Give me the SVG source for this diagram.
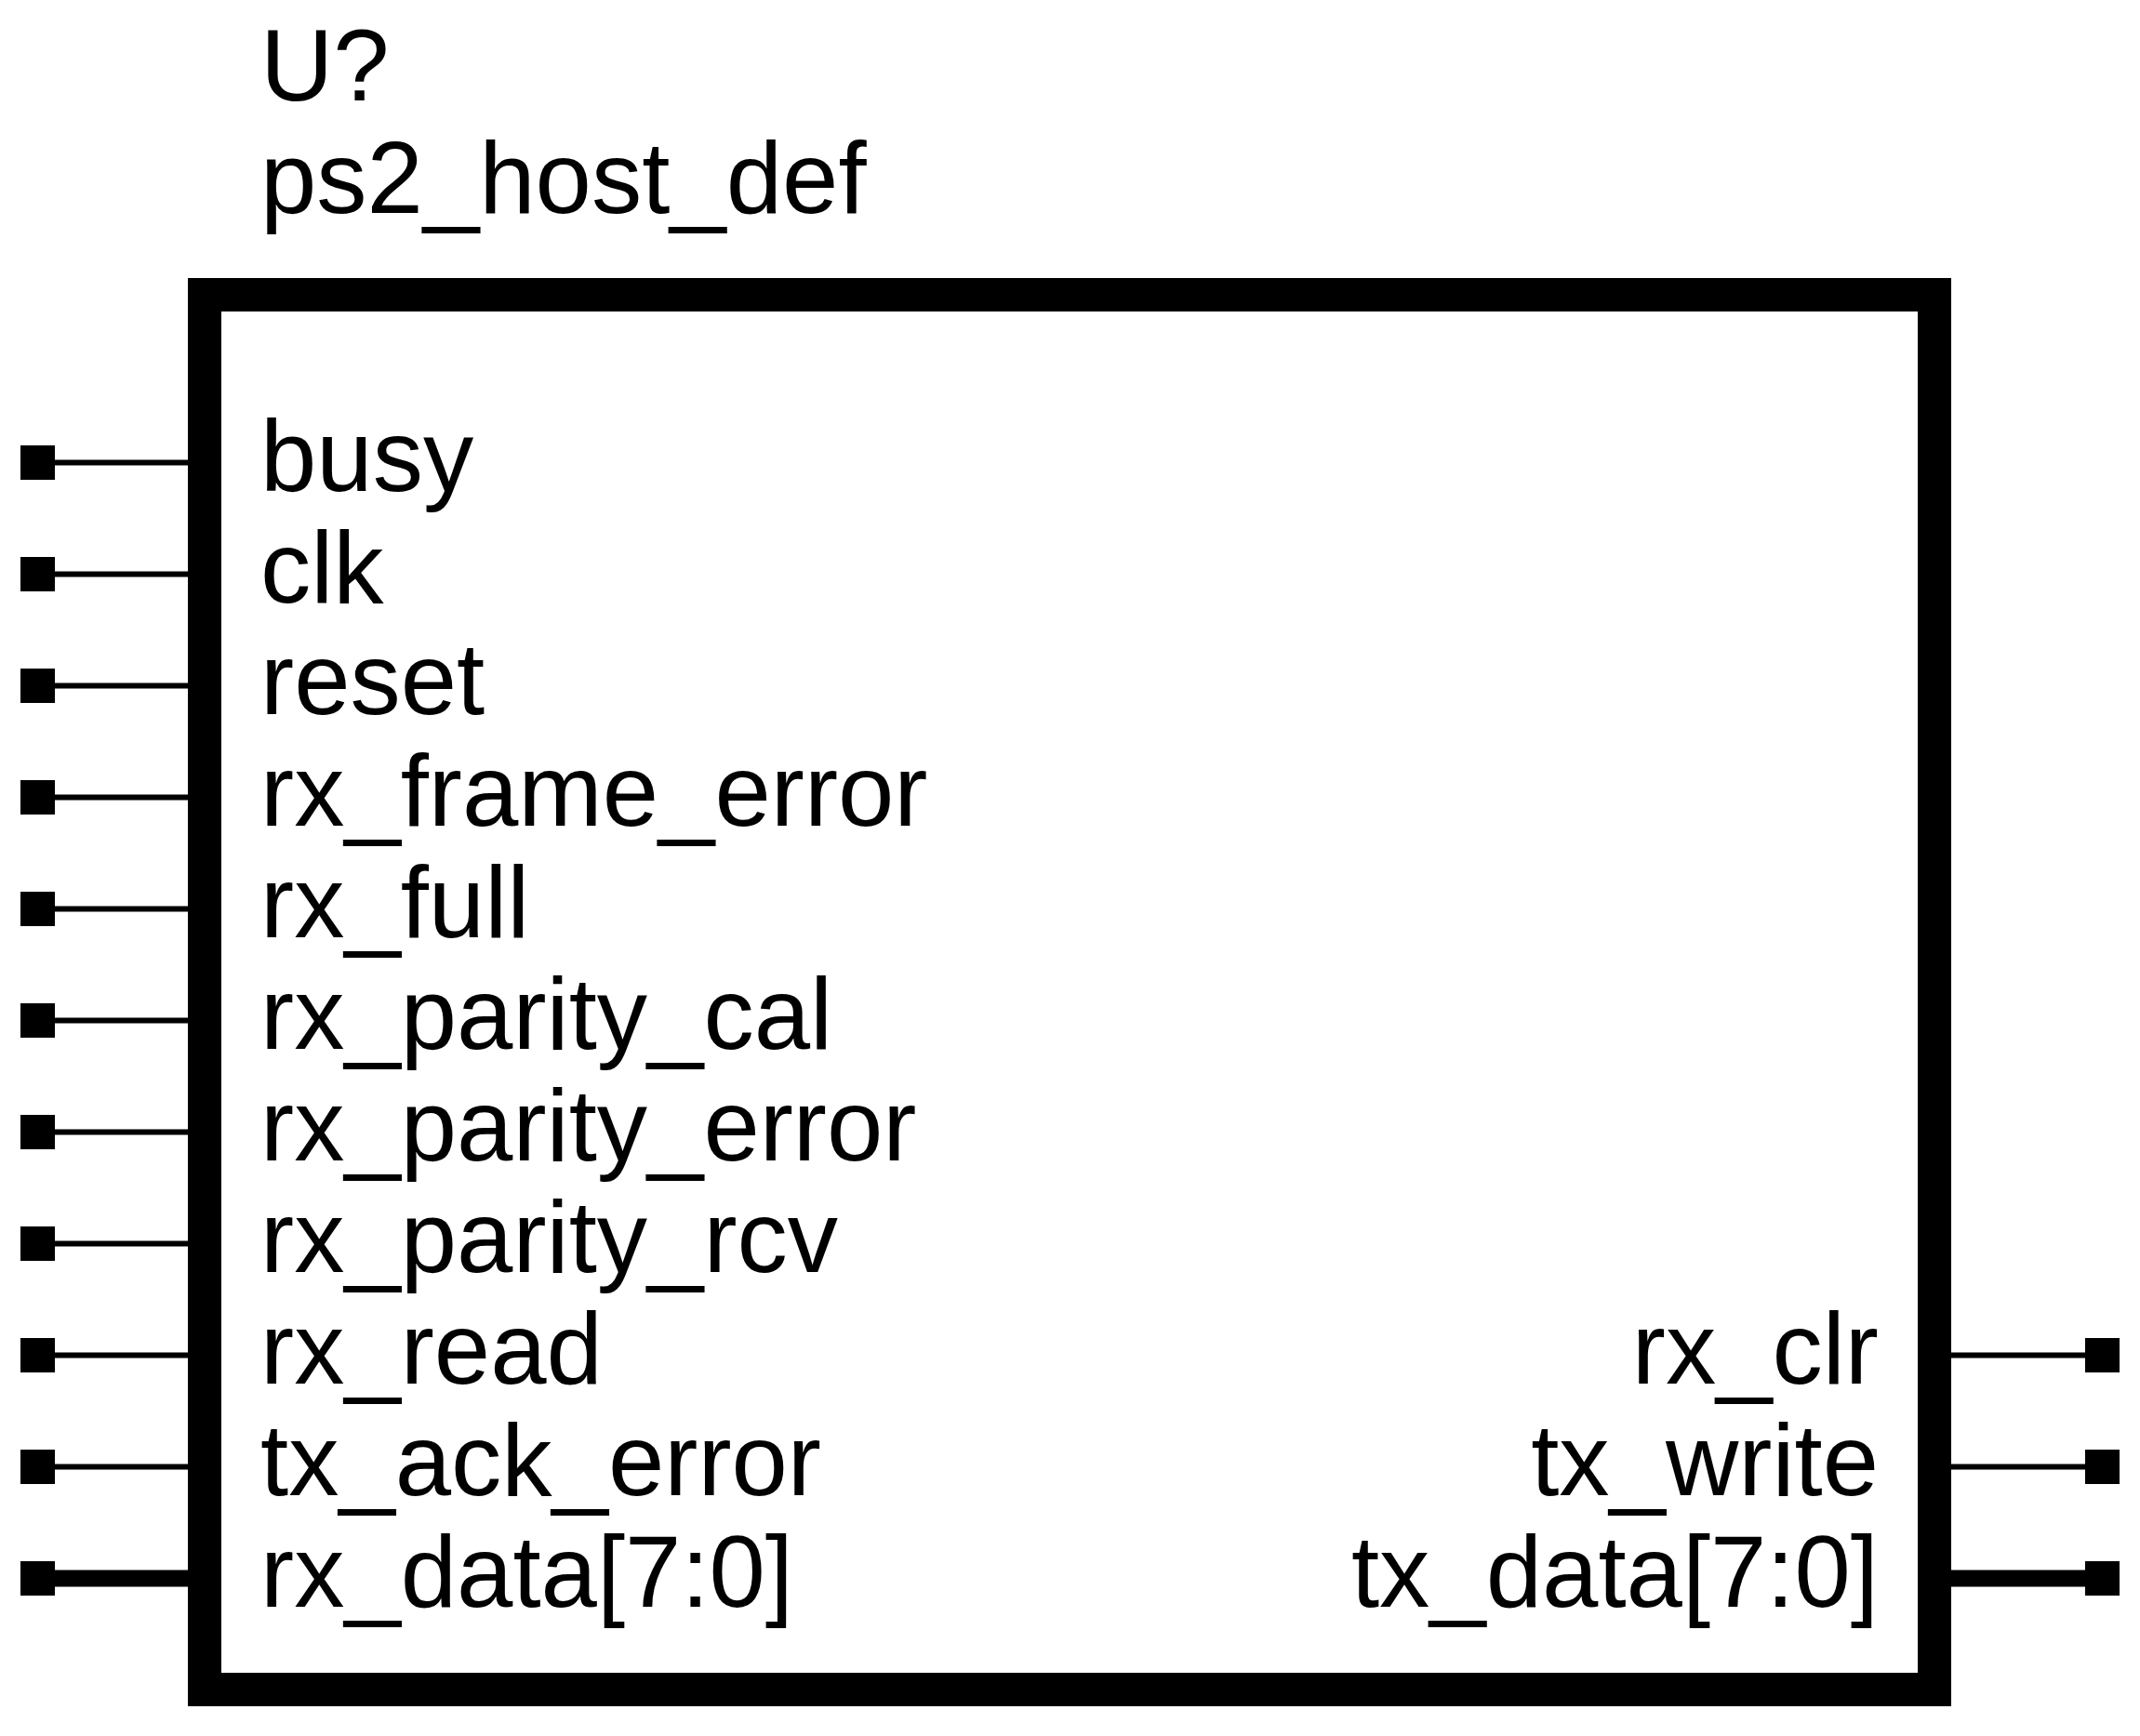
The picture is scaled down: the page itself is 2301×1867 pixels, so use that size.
<svg xmlns="http://www.w3.org/2000/svg" width="2301" height="1867" viewBox="0 0 2301 1867">
<style>
text{font-family:"Liberation Sans",Arial,sans-serif;font-size:108.5px;fill:#000}
.r{text-anchor:end}
.w{stroke:#000;stroke-width:6;fill:none}
.b{stroke:#000;stroke-width:18;fill:none}
.p{fill:#000}
</style>
<rect width="2301" height="1867" fill="#fff"/>
<g id="title">
<text x="280" y="108">U?</text>
<text x="280" y="228.5">ps2_host_def</text>
</g>
<g id="body">
<rect x="220" y="317" width="1860" height="1500" fill="none" stroke="#000" stroke-width="36"/>
</g>
<g id="connectors">
<line class="w" x1="59" y1="497.5" x2="202" y2="497.5"/>
<line class="w" x1="59" y1="617.5" x2="202" y2="617.5"/>
<line class="w" x1="59" y1="737.5" x2="202" y2="737.5"/>
<line class="w" x1="59" y1="857.5" x2="202" y2="857.5"/>
<line class="w" x1="59" y1="977.5" x2="202" y2="977.5"/>
<line class="w" x1="59" y1="1097.5" x2="202" y2="1097.5"/>
<line class="w" x1="59" y1="1217.5" x2="202" y2="1217.5"/>
<line class="w" x1="59" y1="1337.5" x2="202" y2="1337.5"/>
<line class="w" x1="59" y1="1457.5" x2="202" y2="1457.5"/>
<line class="w" x1="59" y1="1577.5" x2="202" y2="1577.5"/>
<line class="b" x1="59" y1="1697.5" x2="202" y2="1697.5"/>
<line class="w" x1="2098" y1="1457.5" x2="2242" y2="1457.5"/>
<line class="w" x1="2098" y1="1577.5" x2="2242" y2="1577.5"/>
<line class="b" x1="2098" y1="1697.5" x2="2242" y2="1697.5"/>
</g>
<g id="pin-busy"><rect class="p" x="22" y="479" width="37" height="37"/><text x="280" y="527.5">busy</text></g>
<g id="pin-clk"><rect class="p" x="22" y="599" width="37" height="37"/><text x="280" y="647.5">clk</text></g>
<g id="pin-reset"><rect class="p" x="22" y="719" width="37" height="37"/><text x="280" y="767.5">reset</text></g>
<g id="pin-rx_frame_error"><rect class="p" x="22" y="839" width="37" height="37"/><text x="280" y="887.5">rx_frame_error</text></g>
<g id="pin-rx_full"><rect class="p" x="22" y="959" width="37" height="37"/><text x="280" y="1007.5">rx_full</text></g>
<g id="pin-rx_parity_cal"><rect class="p" x="22" y="1079" width="37" height="37"/><text x="280" y="1127.5">rx_parity_cal</text></g>
<g id="pin-rx_parity_error"><rect class="p" x="22" y="1199" width="37" height="37"/><text x="280" y="1247.5">rx_parity_error</text></g>
<g id="pin-rx_parity_rcv"><rect class="p" x="22" y="1319" width="37" height="37"/><text x="280" y="1367.5">rx_parity_rcv</text></g>
<g id="pin-rx_read"><rect class="p" x="22" y="1439" width="37" height="37"/><text x="280" y="1487.5">rx_read</text></g>
<g id="pin-tx_ack_error"><rect class="p" x="22" y="1559" width="37" height="37"/><text x="280" y="1607.5">tx_ack_error</text></g>
<g id="pin-rx_data"><rect class="p" x="22" y="1679" width="37" height="37"/><text x="280" y="1727.5">rx_data[7:0]</text></g>
<g id="pin-rx_clr"><rect class="p" x="2242" y="1439" width="37" height="37"/><text class="r" x="2020" y="1487.5">rx_clr</text></g>
<g id="pin-tx_write"><rect class="p" x="2242" y="1559" width="37" height="37"/><text class="r" x="2020" y="1607.5">tx_write</text></g>
<g id="pin-tx_data"><rect class="p" x="2242" y="1679" width="37" height="37"/><text class="r" x="2020" y="1727.5">tx_data[7:0]</text></g>
</svg>
